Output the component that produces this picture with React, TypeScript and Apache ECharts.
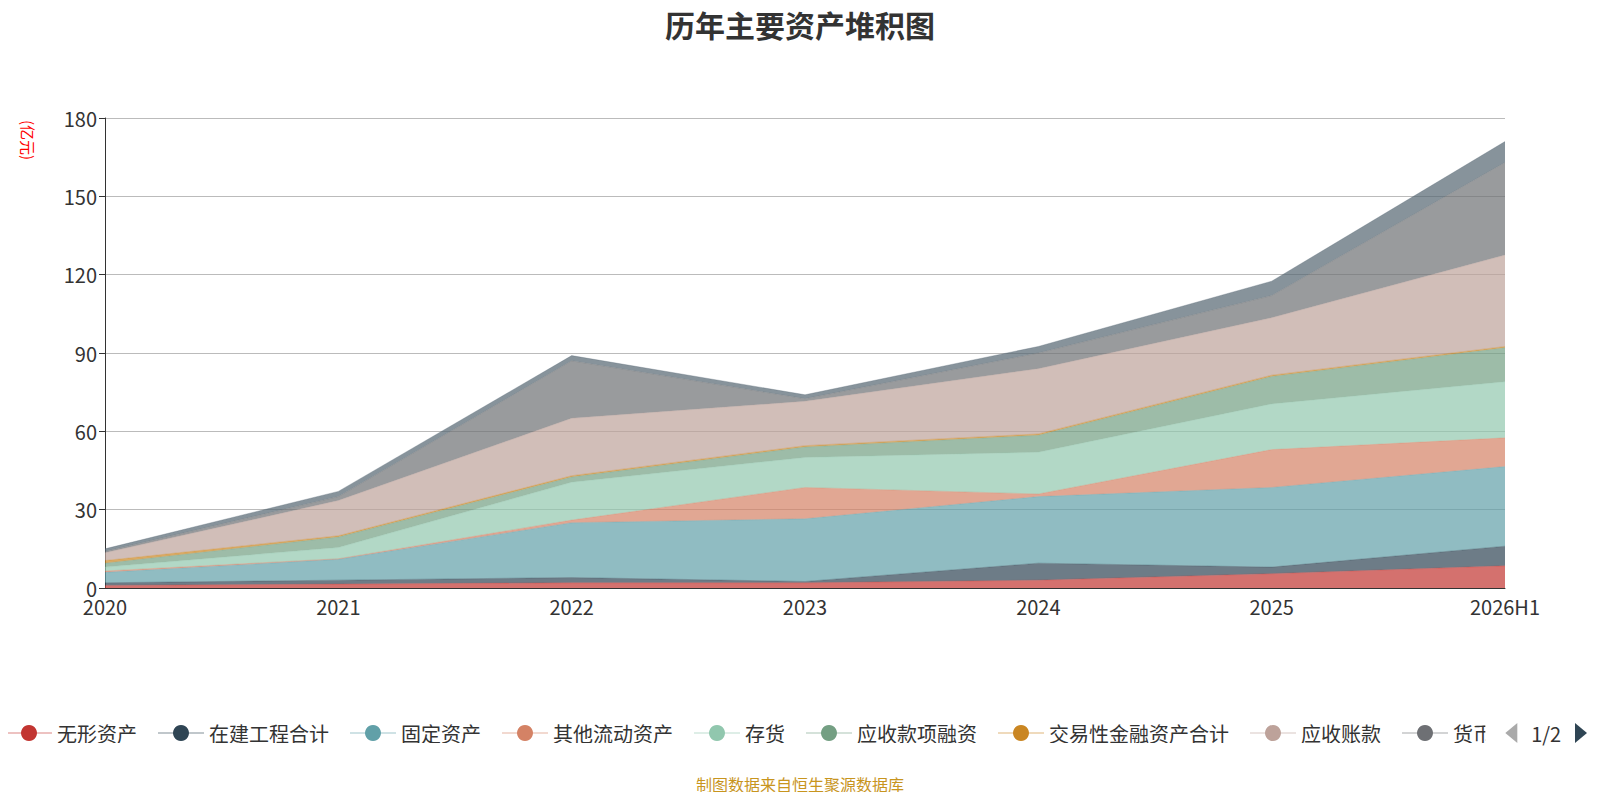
import { useEffect, useRef } from "react";
import * as echarts from "echarts";

const years = ["2020", "2021", "2022", "2023", "2024", "2025", "2026H1"];
const seriesNames = [
  "无形资产",
  "在建工程合计",
  "固定资产",
  "其他流动资产",
  "存货",
  "应收款项融资",
  "交易性金融资产合计",
  "应收账款",
  "货币资金",
  "其他非流动资产",
];
// 每个系列的数值（亿元），堆积
const intangible = [1, 1.5, 2, 2, 3, 5.5, 8.5];
const construction = [1, 1.5, 2, 0.5, 6.5, 2.5, 7.5];
const fixedAssets = [4, 8, 21, 24, 25.5, 30.5, 30.5];
const otherCurrent = [0.5, 0.2, 1, 12, 1, 14.5, 11];
const inventory = [1.5, 4.3, 14.5, 11.5, 16, 17.5, 21.5];
const receivableFin = [1.5, 4, 2, 4, 6.5, 10.5, 13];
const tradingAssets = [1, 0.5, 0.5, 0.5, 0.5, 0.5, 0.5];
const receivables = [3, 13.5, 22, 17, 25, 22, 35];
const cash = [0.5, 1.5, 22, 1, 6, 8.5, 35.5];
const otherNonCurrent = [1, 2, 2, 1.5, 2.5, 5.5, 8];
const allData = [
  intangible, construction, fixedAssets, otherCurrent, inventory,
  receivableFin, tradingAssets, receivables, cash, otherNonCurrent,
];
const yTicks = [0, 30, 60, 90, 120, 150, 180];

const FONT = "'Noto Sans CJK SC', 'Noto Sans', sans-serif";

function App() {
  const chartRef = useRef(null);

  useEffect(() => {
    const chart = echarts.init(chartRef.current, null, { renderer: "svg" });
    chart.setOption({
      animation: false,
      textStyle: { fontFamily: FONT },
      color: ["#c23531", "#2f4554", "#61a0a8", "#d48265", "#91c7ae", "#749f83", "#ca8622", "#bda29a", "#6e7074", "#546570"],
      title: {
        text: "历年主要资产堆积图",
        left: "center",
        top: -4,
        textStyle: { fontSize: 30, fontWeight: "bold", color: "#333", fontFamily: FONT },
      },
      graphic: [
        {
          type: "text",
          left: "center",
          bottom: 0,
          style: { text: "制图数据来自恒生聚源数据库", fill: "#c8951e", fontSize: 16, fontFamily: FONT },
        },
        {
          type: "text",
          x: 28,
          y: 112,
          rotation: -Math.PI / 2,
          style: { text: "(亿元)", fill: "red", fontSize: 15, fontFamily: FONT },
        },
      ],
      legend: {
        type: "scroll",
        bottom: 44,
        left: -8,
        right: 0,
        itemWidth: 46,
        itemHeight: 20,
        itemGap: 20,
        textStyle: { fontSize: 20, color: "#333", fontFamily: FONT },
        pageTextStyle: { fontSize: 20, color: "#333" },
        pageIconSize: 20,
        pageIconColor: "#2f4554",
        pageIconInactiveColor: "#aaa",
        data: seriesNames,
      },
      grid: { left: 97, right: 87, top: 110, bottom: 204 },
      xAxis: {
        type: "category",
        boundaryGap: false,
        data: years,
        axisLine: { lineStyle: { color: "#333" } },
        axisTick: { show: false },
        axisLabel: { fontSize: 20, color: "#333", margin: 8 },
      },
      yAxis: {
        type: "value",
        min: yTicks[0],
        max: yTicks[yTicks.length - 1],
        interval: 30,
        axisLine: { show: true, lineStyle: { color: "#333" } },
        axisTick: { show: true, length: 6 },
        axisLabel: { fontSize: 20, color: "#333" },
        splitLine: { lineStyle: { color: "#bbb" } },
      },
      series: seriesNames.map((name, i) => ({
        name,
        type: "line",
        stack: "total",
        data: allData[i],
        symbol: "circle",
        showSymbol: false,
        lineStyle: { width: 1, opacity: 0.3 },
        areaStyle: { opacity: 0.7 },
      })),
    });
    return () => chart.dispose();
  }, []);

  return <div ref={chartRef} style={{ width: "100%", height: "784px" }}></div>;
}

export default App;
